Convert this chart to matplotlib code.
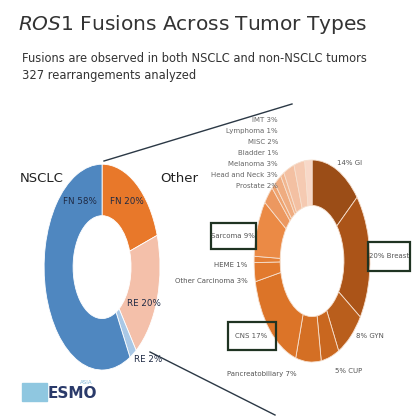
import matplotlib
matplotlib.use("Agg")
import matplotlib.pyplot as plt
from matplotlib.patches import Rectangle

left_labels = ["FN 20%", "RE 20%", "RE 2%", "FN 58%"]
left_values = [20, 20, 2, 58]
left_colors = ["#e8782a", "#f4c0aa", "#a9c8e6", "#4f87c0"]

right_labels = ["14% GI", "20% Breast", "8% GYN", "5% CUP", "Pancreatobiliary 7%", "CNS 17%",
                "Other Carcinoma 3%", "HEME 1%", "Sarcoma 9%", "IMT 3%", "Lymphoma 1%",
                "MISC 2%", "Bladder 1%", "Melanoma 3%", "Head and Neck 3%", "Prostate 2%"]
right_values = [14, 20, 8, 5, 7, 17, 3, 1, 9, 3, 1, 2, 1, 3, 3, 2]
right_colors = ["#9b4d17", "#ab5418", "#b95e1c", "#c9671f", "#d46f24", "#dc7428",
                "#e27a2e", "#e47f35", "#eb8a45", "#ec9860", "#eea370", "#efac80",
                "#f1b690", "#f3c0a2", "#f5cab2", "#f8d8c8"]

fig = plt.figure(figsize=(4.2, 4.2), dpi=100)

axl = fig.add_axes([0.105, 0.119, 0.276, 0.49])
axl.pie(left_values, colors=left_colors, startangle=90, counterclock=False,
        wedgeprops=dict(width=0.5, edgecolor="white", linewidth=0.6))
axl.set_aspect("auto"); axl.set_xlim(-1, 1); axl.set_ylim(-1, 1); axl.axis("off")

axr = fig.add_axes([0.605, 0.138, 0.276, 0.481])
axr.pie(right_values, colors=right_colors, startangle=90, counterclock=False,
        wedgeprops=dict(width=0.45, edgecolor="#f6e0cf", linewidth=0.6))
axr.set_aspect("auto"); axr.set_xlim(-1, 1); axr.set_ylim(-1, 1); axr.axis("off")

bg = fig.add_axes([0, 0, 1, 1])
bg.set_xlim(0, 420); bg.set_ylim(420, 0); bg.axis("off"); bg.patch.set_alpha(0)

# title
bg.text(18, 24, r"$\it{ROS1}$ Fusions Across Tumor Types", fontsize=14.5, color="#333333", va="center")
bg.text(22, 59, "Fusions are observed in both NSCLC and non-NSCLC tumors", fontsize=8.3, color="#333333", va="center")
bg.text(22, 75, "327 rearrangements analyzed", fontsize=8.3, color="#333333", va="center")

# connectors
bg.plot([104, 292], [161, 104], color="#2b3845", lw=1)
bg.plot([150, 275], [352, 415], color="#2b3845", lw=1)

# left labels
bg.text(20, 178, "NSCLC", fontsize=9.5, color="#222222", va="center")
bg.text(160, 178, "Other", fontsize=9.5, color="#222222", va="center")
for t, x, y in [("FN 58%", 80, 202), ("FN 20%", 127, 202), ("RE 20%", 144, 304), ("RE 2%", 148, 359)]:
    bg.text(x, y, t, fontsize=6.3, color="#1f2a44", ha="center", va="center")

# right labels (upper-left stack)
stack = [("IMT 3%", 120), ("Lymphoma 1%", 131), ("MISC 2%", 142), ("Bladder 1%", 153),
         ("Melanoma 3%", 164), ("Head and Neck 3%", 175), ("Prostate 2%", 186)]
for t, y in stack:
    bg.text(278, y, t, fontsize=5, color="#666666", ha="right", va="center")
others = [("14% GI", 337, 163, "left"), ("Sarcoma 9%", 233, 236, "center"),
          ("20% Breast", 389, 256, "center"), ("HEME 1%", 247, 265, "right"),
          ("Other Carcinoma 3%", 248, 281, "right"), ("CNS 17%", 251, 336, "center"),
          ("8% GYN", 356, 336, "left"), ("5% CUP", 335, 371, "left"),
          ("Pancreatobiliary 7%", 262, 374, "center")]
for t, x, y, ha in others:
    bg.text(x, y, t, fontsize=5, color="#555555", ha=ha, va="center")

for x, y, w, h in [(211, 223, 45, 26), (368, 242, 42, 29), (228, 322, 48, 28)]:
    bg.add_patch(Rectangle((x, y), w, h, fill=False, edgecolor="#1f3322", lw=1.6))

# logo
bg.add_patch(Rectangle((22, 383), 25, 18, color="#8fc7e0"))
bg.text(48, 393, "ESMO", fontsize=11, weight="bold", color="#2a3a6a", va="center")
bg.text(80, 383, "ASIA", fontsize=4, color="#7fb7d8", va="center")

fig.savefig("out.png", dpi=100)
